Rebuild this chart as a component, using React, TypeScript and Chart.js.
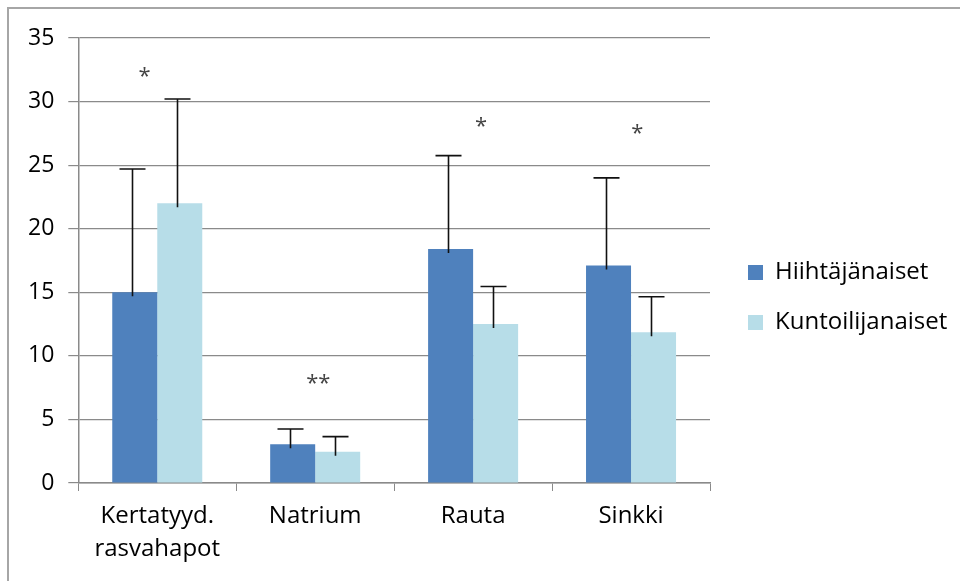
import React, { useEffect, useRef } from "react";
import { Chart, registerables } from "chart.js";

Chart.register(...registerables);

const categories: (string | string[])[] = [["Kertatyyd.", "rasvahapot"], "Natrium", "Rauta", "Sinkki"];
const seriesNames = ["Hiihtäjänaiset", "Kuntoilijanaiset"];
const hiihtajaValues = [15.0, 3.05, 18.4, 17.1];
const hiihtajaErrors = [9.7, 1.2, 7.35, 6.9];
const kuntoilijaValues = [22.0, 2.45, 12.5, 11.85];
const kuntoilijaErrors = [8.2, 1.2, 2.95, 2.8];
const significance = ["*", "**", "*", "*"];
const significanceLevel = [32.3, 8.1, 28.3, 27.8];
const significanceShift = [-0.08, 0.02, 0.05, 0.04];
const yTicks = [0, 5, 10, 15, 20, 25, 30, 35];

const FONT = "'Open Sans', 'DejaVu Sans', sans-serif";

const errorBarPlugin = {
  id: "errorBars",
  afterDatasetsDraw(chart: any) {
    const ctx = chart.ctx;
    const y = chart.scales.y;
    const errs = [hiihtajaErrors, kuntoilijaErrors];
    ctx.save();
    ctx.strokeStyle = "#111111";
    ctx.lineWidth = 1.6;
    chart.data.datasets.forEach((ds: any, i: number) => {
      const meta = chart.getDatasetMeta(i);
      meta.data.forEach((el: any, j: number) => {
        const v = ds.data[j];
        const top = y.getPixelForValue(v + errs[i][j]);
        const base = el.y;
        const x = Math.round(el.x) - 2.5;
        ctx.beginPath();
        ctx.moveTo(x, base + 4);
        ctx.lineTo(x, top);
        ctx.moveTo(x - 13, top);
        ctx.lineTo(x + 13, top);
        ctx.stroke();
      });
    });
    ctx.restore();
  },
};

const significancePlugin = {
  id: "significance",
  afterDatasetsDraw(chart: any) {
    const ctx = chart.ctx;
    const xs = chart.scales.x;
    const ys = chart.scales.y;
    const step = xs.width / categories.length;
    ctx.save();
    ctx.fillStyle = "#444444";
    ctx.font = `22px ${FONT}`;
    ctx.textAlign = "center";
    ctx.textBaseline = "middle";
    significance.forEach((s, j) => {
      const x = xs.getPixelForValue(j) + significanceShift[j] * step;
      const yy = ys.getPixelForValue(significanceLevel[j]) + 4;
      ctx.fillText(s, x, yy);
    });
    ctx.restore();
  },
};

const legendShiftPlugin = {
  id: "legendShift",
  afterLayout(chart: any) {
    const lg = chart.legend;
    if (lg) {
      lg.left += 12;
      lg.right += 12;
      lg.top -= 9;
      lg.bottom -= 9;
    }
  },
};

export default function App() {
  const ref = useRef<HTMLCanvasElement>(null);
  useEffect(() => {
    if (!ref.current) return;
    const chart = new Chart(ref.current, {
      type: "bar",
      data: {
        labels: categories,
        datasets: [
          {
            label: seriesNames[0],
            data: hiihtajaValues,
            backgroundColor: "#4F81BD",
            borderWidth: 0,
          },
          {
            label: seriesNames[1],
            data: kuntoilijaValues,
            backgroundColor: "#B7DDE8",
            borderWidth: 0,
          },
        ],
      },
      options: {
        animation: false,
        responsive: false,
        devicePixelRatio: 1,
        layout: { padding: { left: 14, top: 38, right: 18, bottom: 6 } },
        datasets: { bar: { barPercentage: 1, categoryPercentage: 0.57 } },
        plugins: {
          tooltip: { enabled: false },
          legend: {
            position: "right",
            align: "center",
            labels: {
              font: { family: FONT, size: 24 },
              color: "#000000",
              boxWidth: 15,
              boxHeight: 15,
              padding: 26,
            },
          },
        },
        scales: {
          x: {
            grid: {
              display: true,
              drawOnChartArea: false,
              drawTicks: true,
              tickLength: 8,
              color: "#8a8a8a",
              offset: true,
            },
            border: { display: true, color: "#8a8a8a", width: 1.5 },
            ticks: {
              font: { family: FONT, size: 24, lineHeight: 1.375 },
              color: "#000000",
              padding: 9,
              maxRotation: 0,
              autoSkip: false,
            },
          },
          y: {
            min: 0,
            max: 35,
            afterBuildTicks(scale: any) {
              scale.ticks = yTicks.map((v) => ({ value: v }));
            },
            grid: {
              color: "#8a8a8a",
              lineWidth: 1.2,
              drawTicks: true,
              tickLength: 10,
            },
            border: { display: true, color: "#8a8a8a", width: 1.5 },
            ticks: {
              font: { family: FONT, size: 23 },
              color: "#000000",
              padding: 14,
            },
          },
        },
      },
      plugins: [errorBarPlugin, significancePlugin, legendShiftPlugin],
    });
    return () => chart.destroy();
  }, []);

  return (
    <div style={{ position: "fixed", left: 0, top: 0, width: 960, height: 581, overflow: "hidden", background: "#ffffff" }}>
      <div
        style={{
          position: "absolute",
          left: 7,
          top: 7,
          width: 1000,
          height: 1000,
          borderTop: "2px solid #a6a6a6",
          borderLeft: "2px solid #a6a6a6",
        }}
      />
      <canvas ref={ref} width={960} height={581} style={{ position: "absolute", left: 0, top: 0 }} />
    </div>
  );
}
